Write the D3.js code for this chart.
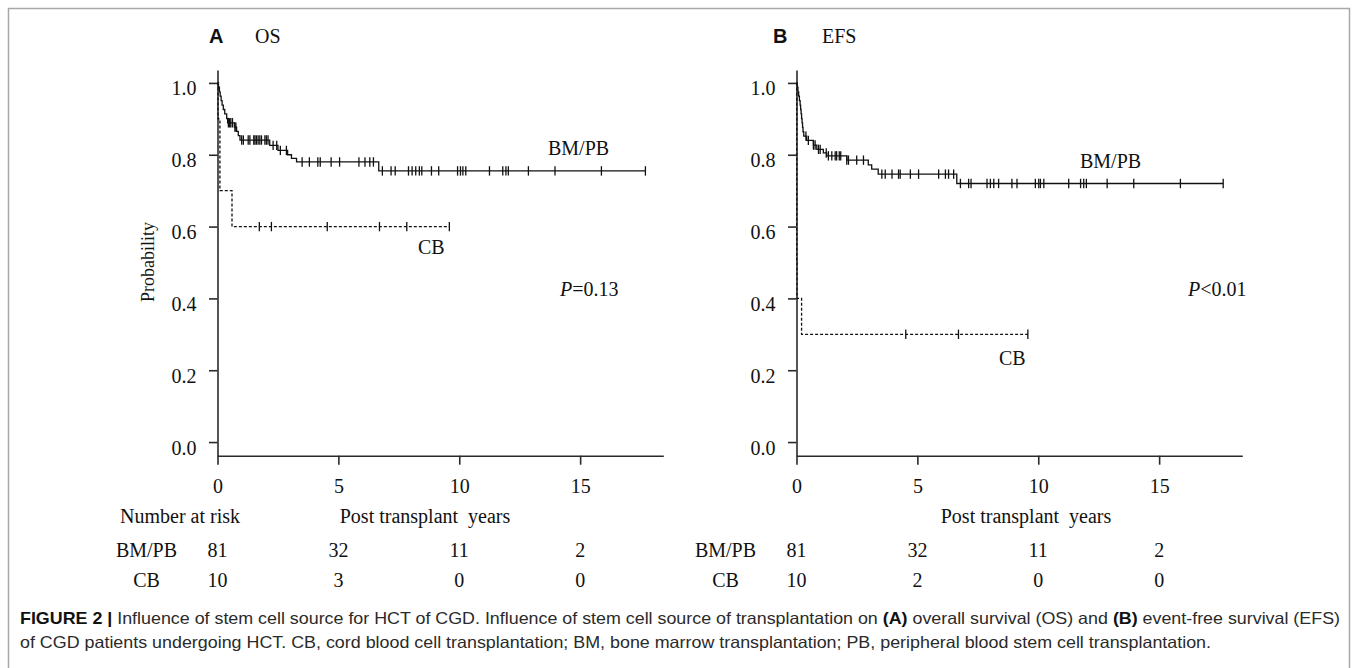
<!DOCTYPE html>
<html>
<head>
<meta charset="utf-8">
<script src="https://cdn.jsdelivr.net/npm/d3@7"></script>
<style>
  html, body { margin: 0; padding: 0; background: #fff; }
  svg text { white-space: pre; }
</style>
</head>
<body>
<div id="chart"></div>
<script>
// axis ticks
const timeTicks = [0, 5, 10, 15];
const probTicks = [0, 0.2, 0.4, 0.6, 0.8, 1.0];

// number at risk
const riskGroups = ['BM/PB', 'CB'];
const osRiskBMPB = [81, 32, 11, 2];
const osRiskCB = [10, 3, 0, 0];
const efsRiskBMPB = [81, 32, 11, 2];
const efsRiskCB = [10, 2, 0, 0];

// step curves: [time (years), survival after the event]
const osBMPBSteps = [[0.04, 0.988], [0.08, 0.975], [0.11, 0.963], [0.15, 0.951], [0.19, 0.938],
	[0.24, 0.926], [0.3, 0.914], [0.38, 0.901], [0.42, 0.889], [0.7, 0.877], [0.79, 0.865],
	[0.86, 0.853], [0.93, 0.841], [2.16, 0.826], [2.5, 0.812], [2.9, 0.8], [3.06, 0.79],
	[3.27, 0.78], [6.67, 0.755]];
const osBMPBCensor = [0.45, 0.5, 0.55, 0.62, 0.72, 0.76, 1.0, 1.07, 1.27, 1.34, 1.5, 1.55, 1.61,
	1.68, 1.75, 1.82, 1.96, 2.02, 2.09, 2.3, 2.45, 2.6, 2.85, 3.5, 3.8, 4.15, 4.25, 4.7, 5.05,
	5.85, 6.1, 6.3, 6.45, 6.82, 7.18, 7.35, 7.9, 8.05, 8.2, 8.35, 8.45, 8.85, 9.15, 9.93, 10.05,
	10.15, 10.27, 11.25, 11.8, 11.93, 12.03, 12.86, 13.96, 15.88, 17.7];
const osCBSteps = [[0.02, 0.9], [0.1, 0.7], [0.6, 0.6]];
const osCBCensor = [1.73, 2.23, 4.54, 6.7, 7.83, 9.59];

const efsBMPBSteps = [[0.03, 0.988], [0.06, 0.975], [0.09, 0.963], [0.12, 0.951], [0.15, 0.938],
	[0.17, 0.926], [0.19, 0.914], [0.21, 0.901], [0.23, 0.889], [0.25, 0.876], [0.27, 0.864],
	[0.3, 0.852], [0.42, 0.84], [0.7, 0.827], [0.84, 0.815], [1.11, 0.805], [1.25, 0.797],
	[2.08, 0.785], [2.97, 0.772], [3.11, 0.76], [3.38, 0.746], [6.63, 0.72]];
const efsBMPBCensor = [0.39, 0.49, 0.7, 0.77, 0.91, 0.98, 1.23, 1.32, 1.46, 1.6, 1.66, 1.77, 1.83,
	2.08, 2.15, 2.49, 2.77, 3.53, 3.67, 3.95, 4.22, 4.29, 4.71, 5.05, 5.88, 6.16, 6.29, 6.5, 6.78,
	7.12, 7.22, 7.88, 8.02, 8.16, 8.36, 8.91, 9.12, 9.88, 10.02, 10.09, 10.23, 11.26, 11.75,
	11.88, 11.99, 12.85, 13.95, 15.88, 17.65];
const efsCBSteps = [[0.01, 0.5], [0.02, 0.4], [0.21, 0.3]];
const efsCBCensor = [4.52, 6.7, 9.57];

const W = 1358, H = 668;
const serif = '"Liberation Serif", "Times New Roman", serif';
const sans = '"Liberation Sans", Arial, sans-serif';

const svg = d3.select('#chart').append('svg')
	.attr('width', W).attr('height', H);

svg.append('rect')
	.attr('x', 8.5).attr('y', 8.5)
	.attr('width', 1341).attr('height', 680)
	.attr('fill', 'none').attr('stroke', '#a8a8a8').attr('stroke-width', 1.5);

var x = d3.scaleLinear().domain([0, 18.44]).range([0, 445.8]);
var y = d3.scaleLinear().domain([-0.038, 1.036]).range([455.7, 70]);

function survivalAt(steps, t) {
	var s = 1;
	steps.forEach(function (d) { if (d[0] <= t) s = d[1]; });
	return s;
}

function drawCurve(g, steps, censor, dashed) {
	var end = d3.max(censor.concat(steps.map(function (d) { return d[0]; })));
	var pts = [[0, 1]].concat(steps).concat([[end, steps[steps.length - 1][1]]]);
	var line = d3.line()
		.x(function (d) { return x(d[0]); })
		.y(function (d) { return y(d[1]); })
		.curve(d3.curveStepAfter);
	g.append('path')
		.attr('d', line(pts))
		.attr('fill', 'none')
		.attr('stroke', '#111')
		.attr('stroke-width', 1.3)
		.attr('stroke-dasharray', dashed ? '3,2' : null);
	g.selectAll(null)
		.data(censor)
		.enter()
		.append('line')
		.attr('x1', function (d) { return x(d); })
		.attr('x2', function (d) { return x(d); })
		.attr('y1', function (d) { return y(survivalAt(steps, d)) - 4.7; })
		.attr('y2', function (d) { return y(survivalAt(steps, d)) + 4.7; })
		.attr('stroke', '#111')
		.attr('stroke-width', 1.3);
}

function drawPanel(p) {
	var g = svg.append('g').attr('transform', 'translate(' + p.left + ',0)');

	var yAxis = g.append('g')
		.call(d3.axisLeft(y).tickValues(probTicks).tickSize(8.5).tickSizeOuter(0).tickPadding(12.5)
			.tickFormat(d3.format('.1f')));
	var xAxis = g.append('g')
		.attr('transform', 'translate(0,' + y.range()[0] + ')')
		.call(d3.axisBottom(x).tickValues(timeTicks).tickSize(9).tickSizeOuter(0).tickPadding(14));
	[yAxis, xAxis].forEach(function (a) {
		a.selectAll('path, line').attr('stroke', '#2a2a2a').attr('stroke-width', 1.6);
		a.selectAll('text').attr('font-family', serif).attr('font-size', 20).attr('fill', '#111');
	});
	yAxis.selectAll('text').attr('dy', '0.6em');

	drawCurve(g, p.cbSteps, p.cbCensor, true);
	drawCurve(g, p.bmSteps, p.bmCensor, false);

	// panel letter and title
	svg.append('text').attr('x', p.letterX).attr('y', 43)
		.attr('font-family', sans).attr('font-weight', 'bold').attr('font-size', 20)
		.attr('fill', '#111').text(p.letter);
	svg.append('text').attr('x', p.titleX).attr('y', 43)
		.attr('font-family', serif).attr('font-size', 20).attr('fill', '#111').text(p.title);

	// curve labels
	var labels = [
		{ t: 'BM/PB', x: p.bmLabel[0], y: p.bmLabel[1] },
		{ t: 'CB', x: p.cbLabel[0], y: p.cbLabel[1] }
	];
	labels.forEach(function (l) {
		svg.append('text').attr('x', l.x).attr('y', l.y)
			.attr('font-family', serif).attr('font-size', 20).attr('fill', '#111').text(l.t);
	});
	var pt = svg.append('text').attr('x', p.pLabel[0]).attr('y', p.pLabel[1])
		.attr('font-family', serif).attr('font-size', 20).attr('fill', '#111');
	pt.append('tspan').attr('font-style', 'italic').text('P');
	pt.append('tspan').text(p.pText);

	// x title
	svg.append('text').attr('x', p.xTitleX).attr('y', 523)
		.attr('text-anchor', 'middle')
		.attr('font-family', serif).attr('font-size', 20).attr('fill', '#111')
		.text('Post transplant  years');

	// number at risk table
	var rows = [p.riskBM, p.riskCB];
	rows.forEach(function (vals, i) {
		var ry = 556.6 + i * 30;
		g.append('text').attr('x', -71).attr('y', ry).attr('text-anchor', 'middle')
			.attr('font-family', serif).attr('font-size', 20).attr('fill', '#111')
			.text(riskGroups[i]);
		g.selectAll(null).data(vals).enter().append('text')
			.attr('x', function (d, j) { return x(timeTicks[j]); })
			.attr('y', ry)
			.attr('text-anchor', 'middle')
			.attr('font-family', serif).attr('font-size', 20).attr('fill', '#111')
			.text(function (d) { return d; });
	});
}

drawPanel({
	left: 217.5, letter: 'A', letterX: 209, title: 'OS', titleX: 255,
	bmSteps: osBMPBSteps, bmCensor: osBMPBCensor, cbSteps: osCBSteps, cbCensor: osCBCensor,
	bmLabel: [548, 154.6], cbLabel: [418, 253.6], pLabel: [560, 295.6], pText: '=0.13',
	xTitleX: 425, riskBM: osRiskBMPB, riskCB: osRiskCB
});
drawPanel({
	left: 796.5, letter: 'B', letterX: 773, title: 'EFS', titleX: 822,
	bmSteps: efsBMPBSteps, bmCensor: efsBMPBCensor, cbSteps: efsCBSteps, cbCensor: efsCBCensor,
	bmLabel: [1080, 168.3], cbLabel: [999, 364.6], pLabel: [1188, 295.6], pText: '<0.01',
	xTitleX: 1026, riskBM: efsRiskBMPB, riskCB: efsRiskCB
});

svg.append('text')
	.attr('transform', 'translate(154,262) rotate(-90)')
	.attr('text-anchor', 'middle')
	.attr('font-family', serif).attr('font-size', 18).attr('fill', '#111')
	.text('Probability');

svg.append('text').attr('x', 120).attr('y', 523)
	.attr('font-family', serif).attr('font-size', 20).attr('fill', '#111')
	.text('Number at risk');

// caption
var cap1 = svg.append('text').attr('x', 20).attr('y', 623.7)
	.attr('font-family', sans).attr('font-size', 16.5).attr('fill', '#2a2a2a')
	.attr('textLength', 1320).attr('lengthAdjust', 'spacingAndGlyphs');
cap1.append('tspan').attr('font-weight', 'bold').attr('fill', '#111').text('FIGURE 2 | ');
cap1.append('tspan').text('Influence of stem cell source for HCT of CGD. Influence of stem cell source of transplantation on ');
cap1.append('tspan').attr('font-weight', 'bold').attr('fill', '#111').text('(A)');
cap1.append('tspan').text(' overall survival (OS) and ');
cap1.append('tspan').attr('font-weight', 'bold').attr('fill', '#111').text('(B)');
cap1.append('tspan').text(' event-free survival (EFS)');

svg.append('text').attr('x', 20).attr('y', 647.7)
	.attr('font-family', sans).attr('font-size', 16.5).attr('fill', '#2a2a2a')
	.attr('textLength', 1191).attr('lengthAdjust', 'spacingAndGlyphs')
	.text('of CGD patients undergoing HCT. CB, cord blood cell transplantation; BM, bone marrow transplantation; PB, peripheral blood stem cell transplantation.');
</script>
</body>
</html>
